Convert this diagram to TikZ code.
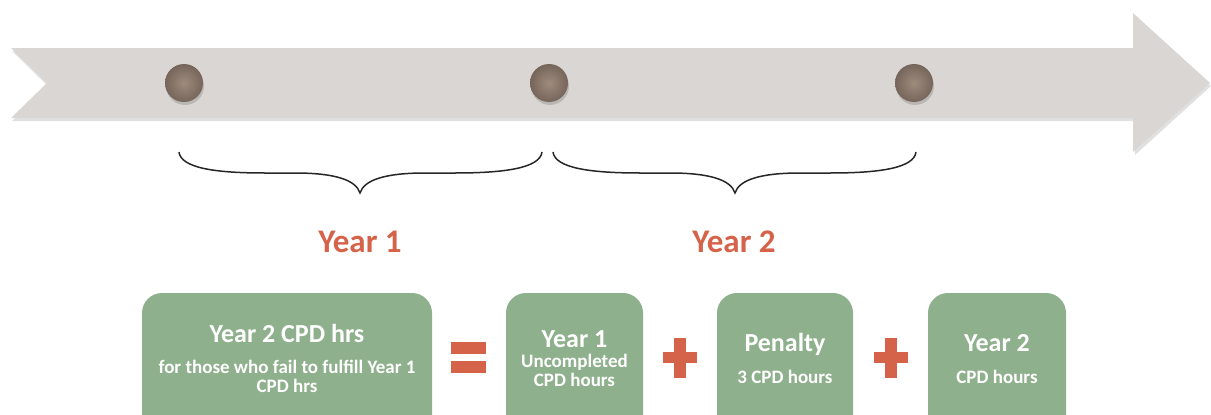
\documentclass[tikz,border=0pt]{standalone}
\usepackage{fontspec}
\setmainfont{Carlito}
\usetikzlibrary{calc}
\definecolor{bandgrey}{HTML}{DAD6D3}
\definecolor{boxgreen}{HTML}{8EB08C}
\definecolor{accent}{HTML}{D5634A}
\definecolor{dotin}{HTML}{9E8B7E}
\definecolor{dotout}{HTML}{76655A}
\tikzset{
  greenbox/.style={fill=boxgreen, rounded corners=20pt, draw=none},
  title/.style={text=white, font=\bfseries\fontsize{26}{28}\selectfont, anchor=base, inner sep=0pt},
  sub/.style={text=white, font=\bfseries\fontsize{19}{21}\selectfont, anchor=base, inner sep=0pt},
  yearlabel/.style={text=accent, font=\bfseries\fontsize{33}{36}\selectfont, anchor=base, inner sep=0pt},
  dot/.style={circle, minimum size=38pt, inner sep=0pt, shade, inner color=dotin, outer color=dotout},
  dotshadow/.style={circle, minimum size=38pt, inner sep=0pt, fill=black, opacity=0.15},
  bracestyle/.style={draw=black!85, line width=1.5pt},
  opbar/.style={fill=accent, draw=none},
}
\begin{document}
\begin{tikzpicture}[x=1pt,y=-1pt]
\useasboundingbox (0,0) rectangle (1211,415);
\clip (0,0) rectangle (1211,415);
% arrow band shadow
\fill[black, opacity=0.12] (12,51) -- (1135,51) -- (1135,16) -- (1211,86) -- (1135,155) -- (1135,121) -- (12,121) -- (48,86) -- cycle;
\node[coordinate] (tail) at (11,48) {};
\fill[bandgrey] (tail) -- (1133,48) -- (1133,13) -- (1210,83) -- (1133,152) -- (1133,118) -- (11,118) -- (47,83) -- cycle;
% dots
\node[dotshadow] (s1) at (185,86) {};
\node[dotshadow] (s2) at (550,86) {};
\node[dotshadow] (s3) at (915,86) {};
\node[dot] (d1) at (184,83) {};
\node[dot] (d2) at (549,83) {};
\node[dot] (d3) at (914,83) {};
% braces
\coordinate (b1l) at (179,152);
\coordinate (b1t) at (360,193);
\coordinate (b1r) at (542,152);
\draw[bracestyle] (b1l) .. controls (181,168) and (215,173) .. (265,173) -- (295,173) .. controls (335,173) and (356,180) .. (b1t)
  .. controls (364,180) and (385,173) .. (425,173) -- (455,173) .. controls (505,173) and (540,168) .. (b1r);
\coordinate (b2l) at (553,152);
\coordinate (b2t) at (735,193);
\coordinate (b2r) at (916,152);
\draw[bracestyle] (b2l) .. controls (555,168) and (590,173) .. (640,173) -- (670,173) .. controls (710,173) and (731,180) .. (b2t)
  .. controls (739,180) and (760,173) .. (800,173) -- (830,173) .. controls (880,173) and (914,168) .. (b2r);
% year labels
\node[yearlabel] (y1) at (360,252) {Year 1};
\node[yearlabel] (y2) at (734,252) {Year 2};
% boxes
\path[greenbox] (142,293) rectangle (432,445);
\path[greenbox] (506,293) rectangle (643,445);
\path[greenbox] (717,293) rectangle (853,445);
\path[greenbox] (928,293) rectangle (1066,445);
% box texts
\node[title] (t1) at (287,342) {Year 2 CPD hrs};
\node[sub] (t1a) at (287,373) {for those who fail to fulfill Year 1};
\node[sub] (t1b) at (287,392) {CPD hrs};
\node[title] (t2) at (574.5,347) {Year 1};
\node[sub] (t2a) at (574.5,367) {Uncompleted};
\node[sub] (t2b) at (574.5,386) {CPD hours};
\node[title] (t3) at (785,351) {Penalty};
\node[sub] (t3a) at (785,383) {3 CPD hours};
\node[title] (t4) at (997,351) {Year 2};
\node[sub] (t4a) at (997,383) {CPD hours};
% operators
\path[opbar] (451,342) rectangle (486,354);
\path[opbar] (451,361) rectangle (486,373);
\path[opbar] (663,352) rectangle (697,363);
\path[opbar] (674,338) rectangle (686,378);
\path[opbar] (874,352) rectangle (908,363);
\path[opbar] (885,338) rectangle (897,378);
\end{tikzpicture}
\end{document}
